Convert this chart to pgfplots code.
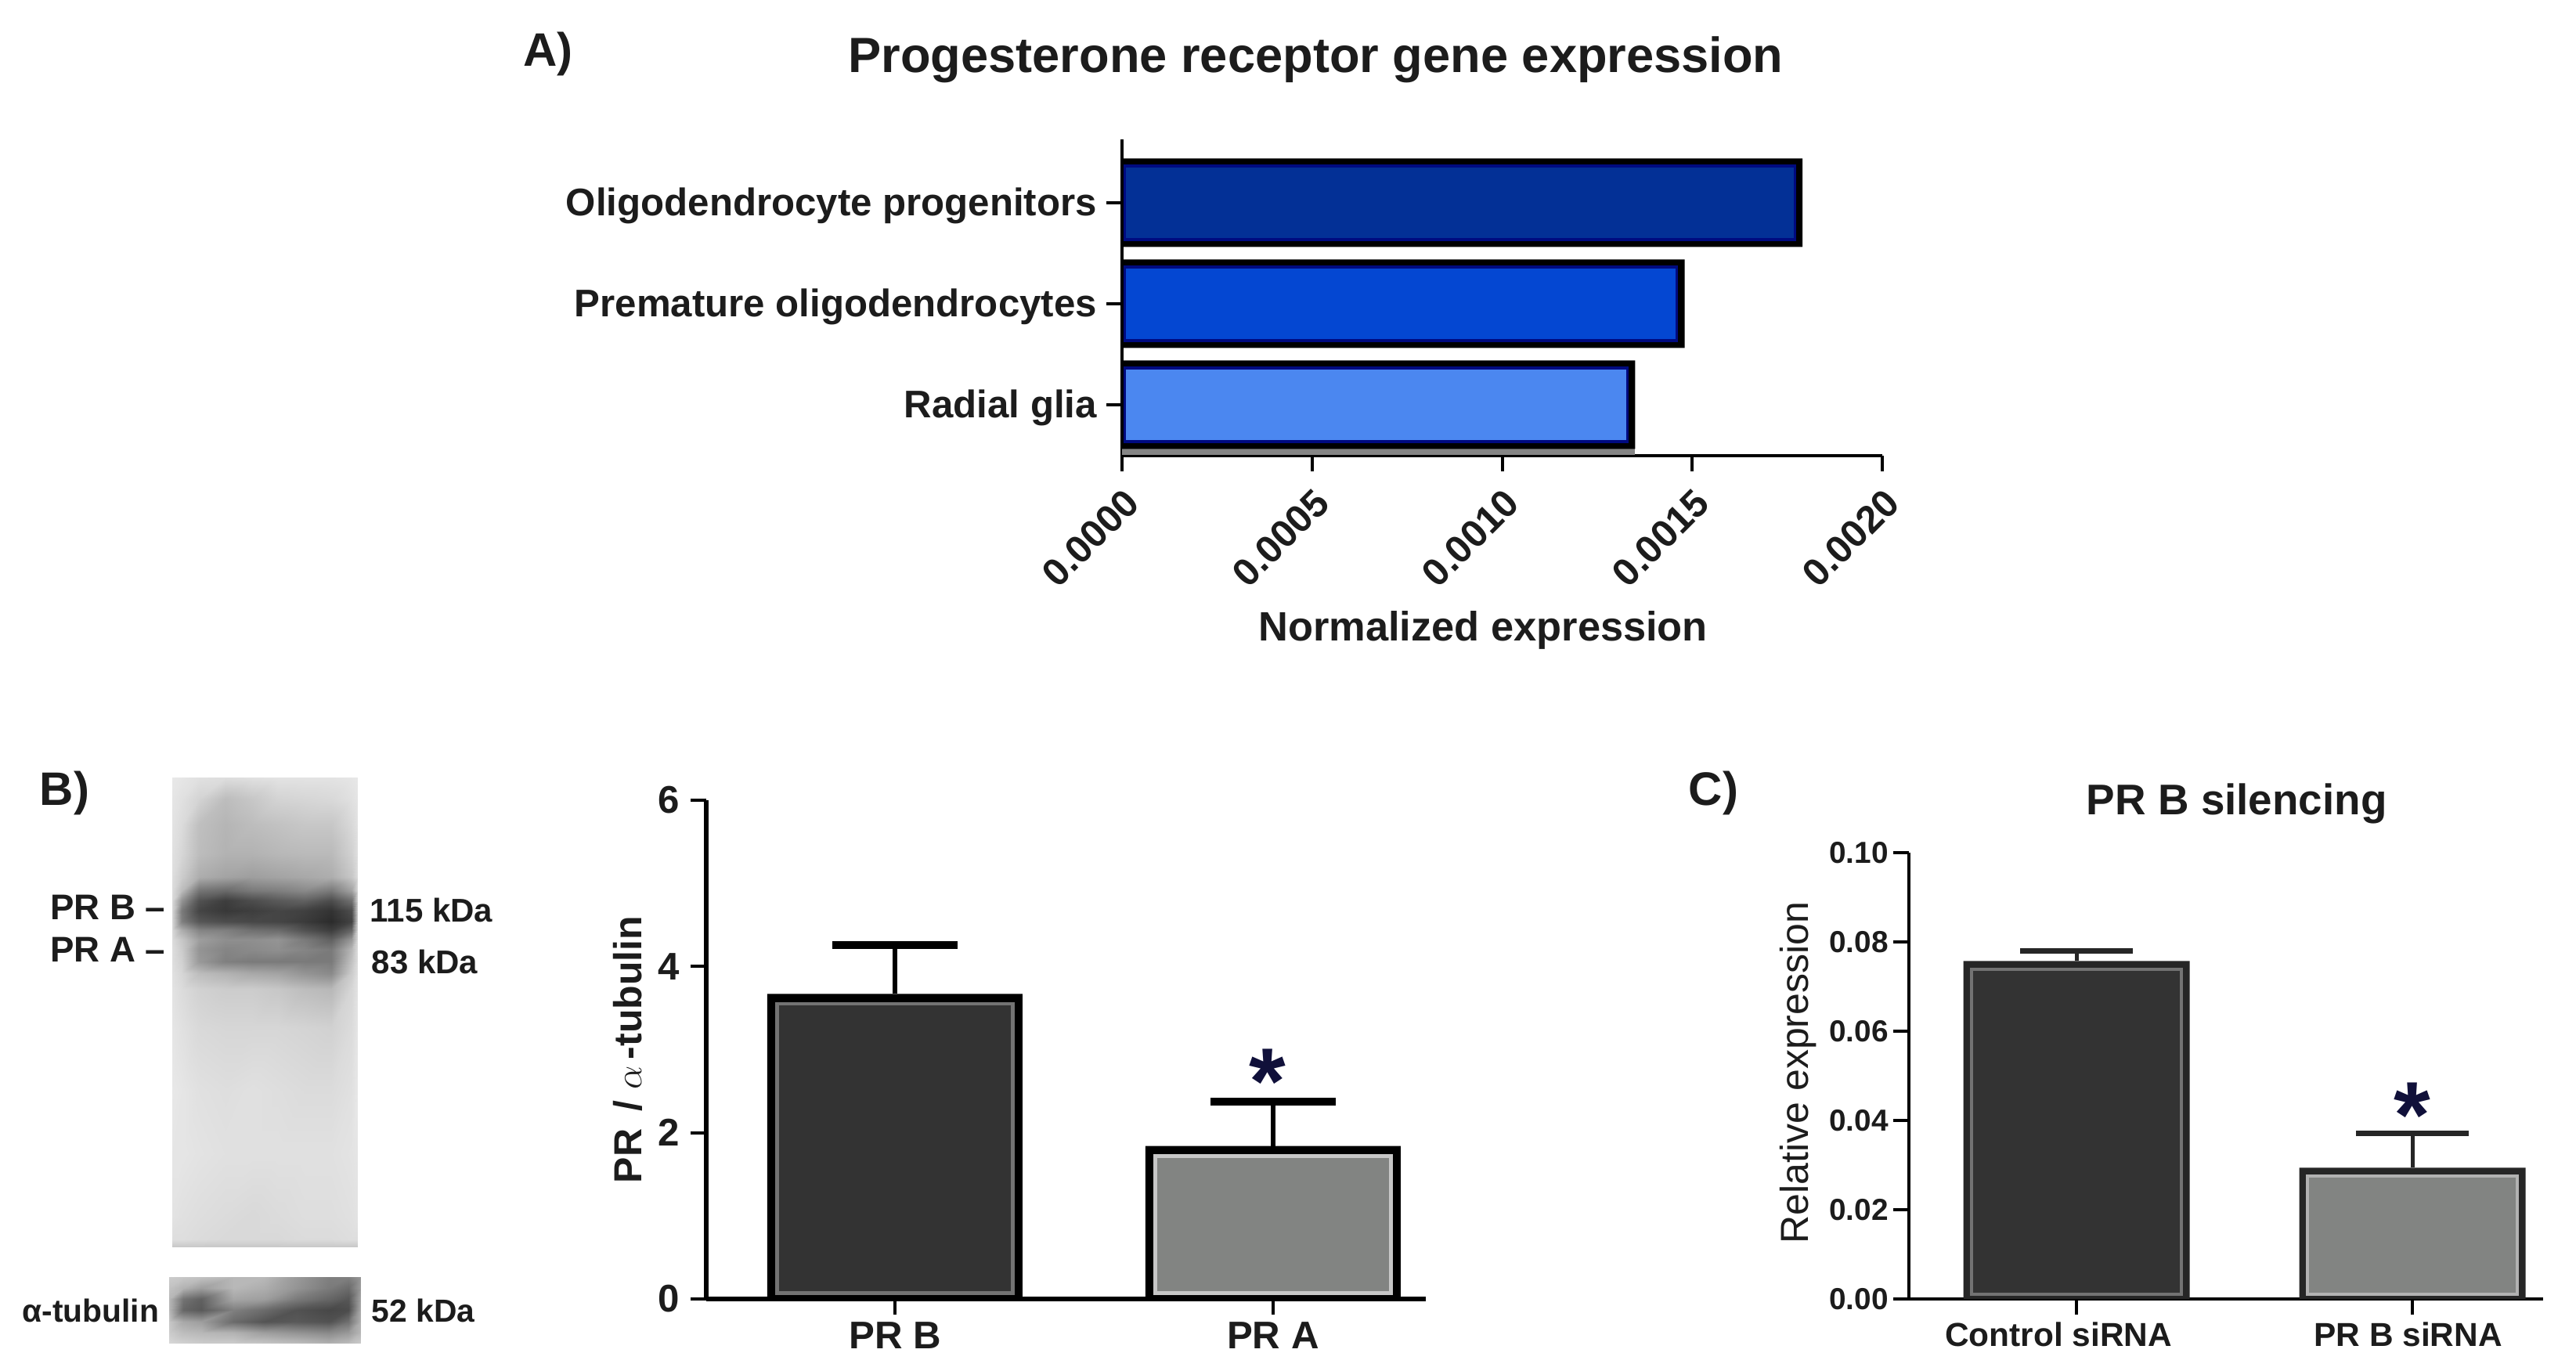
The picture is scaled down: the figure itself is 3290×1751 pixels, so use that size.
\documentclass[border=0pt]{standalone}
\usepackage{fontspec}
\setmainfont{Liberation Sans}
\usepackage{pgfplots}
\pgfplotsset{compat=1.18}
\newcommand\fs[1]{\fontsize{#1}{#1}\selectfont}
\definecolor{ink}{HTML}{1C1C1C}
\definecolor{bluedark}{HTML}{033096}
\definecolor{bluemid}{HTML}{0447D2}
\definecolor{bluelight}{HTML}{4B87F0}
\definecolor{navy}{HTML}{000A80}
\definecolor{bardark}{HTML}{333333}
\definecolor{bargrey}{HTML}{828482}
\definecolor{star}{HTML}{10103A}
\pgfplotsset{
  panel/.style={
    scale only axis, axis lines=left, axis line style={-,black,line width=#1},
    tick align=outside, major tick length=5pt, xtick pos=bottom, ytick pos=left,
    tick style={black,line width=1pt}, enlargelimits=false, scaled ticks=false, clip=false,
    tick label style={text=ink}, label style={text=ink}, title style={text=ink},
  },
  blot/.style={
    scale only axis, hide axis, view={0}{90}, y dir=reverse, enlargelimits=false,
    colormap={blotgray}{gray(0cm)=(0); gray(1cm)=(1)}, point meta min=0, point meta max=1,
  },
}
\begin{document}
\begin{tikzpicture}[x=0.25pt,y=0.25pt]
\path[use as bounding box] (0,0) rectangle (3290,1751);

% panel A
\begin{axis}[panel=1.1pt, at={(358.25pt,292.25pt)}, anchor=south west, width=242.75pt, height=101pt,
  xmin=0, xmax=0.002, ymin=-0.504, ymax=2.628,
  xtick={0,0.0005,0.001,0.0015,0.002},
  xticklabels={0.0000,0.0005,0.0010,0.0015,0.0020},
  ytick={0,1,2}, yticklabels={Radial glia,Premature oligodendrocytes,Oligodendrocyte progenitors},
  yticklabel style={font=\bfseries\fs{12.3}, xshift=0.5pt, yshift=-1pt},
  xticklabel style={font=\bfseries\fs{12.3}, rotate=45, anchor=north east, xshift=0.2pt, yshift=0pt},
  title={Progesterone receptor gene expression},
  title style={font=\bfseries\fs{15.8}, at={(axis description cs:0.255,1.192)}, anchor=center},
  xlabel={Normalized expression},
  xlabel style={font=\bfseries\fs{13.1}, at={(axis description cs:0.475,-0.553)}, anchor=center},
]
\addplot[fill=black!48, draw=none] coordinates {(0,-0.5) (0.00135,-0.5) (0.00135,-0.43) (0,-0.43)} --cycle;
\addplot[xbar, bar shift=0pt, bar width=28.25pt, fill=black, draw=none] coordinates {(0.00179,2) (0.00148,1) (0.00135,0)};
\addplot[fill=bluedark, draw=navy, line width=0.8pt] coordinates {(0.000008,1.636) (0.00177,1.636) (0.00177,2.364) (0.000008,2.364)} --cycle;
\addplot[fill=bluemid, draw=navy, line width=0.8pt] coordinates {(0.000008,0.636) (0.00146,0.636) (0.00146,1.364) (0.000008,1.364)} --cycle;
\addplot[fill=bluelight, draw=navy, line width=0.8pt] coordinates {(0.000008,-0.364) (0.00133,-0.364) (0.00133,0.364) (0.000008,0.364)} --cycle;
\end{axis}

% panel B, blots
\begin{axis}[blot, at={(55pt,39.5pt)}, anchor=south west, width=59.25pt, height=150pt, xmin=0, xmax=7, ymin=0, ymax=600]
\addplot3[surf, shader=interp, mesh/cols=10] coordinates {
(0,0,.91)(.35,0,.90)(1,0,.88)(2,0,.87)(3,0,.88)(4,0,.89)(5,0,.89)(6,0,.89)(6.75,0,.90)(7,0,.91)
(0,27,.90)(.35,27,.88)(1,27,.83)(2,27,.74)(3,27,.78)(4,27,.83)(5,27,.84)(6,27,.85)(6.75,27,.88)(7,27,.90)
(0,60,.89)(.35,60,.86)(1,60,.75)(2,60,.71)(3,60,.74)(4,60,.76)(5,60,.78)(6,60,.78)(6.75,60,.85)(7,60,.89)
(0,97,.88)(.35,97,.84)(1,97,.74)(2,97,.70)(3,97,.70)(4,97,.72)(5,97,.73)(6,97,.73)(6.75,97,.82)(7,97,.88)
(0,127,.87)(.35,127,.80)(1,127,.68)(2,127,.64)(3,127,.62)(4,127,.64)(5,127,.66)(6,127,.68)(6.75,127,.78)(7,127,.87)
(0,144,.86)(.35,144,.74)(1,144,.46)(2,144,.42)(3,144,.48)(4,144,.50)(5,144,.54)(6,144,.48)(6.75,144,.64)(7,144,.86)
(0,157,.85)(.35,157,.58)(1,157,.32)(2,157,.24)(3,157,.30)(4,157,.35)(5,157,.38)(6,157,.30)(6.75,157,.44)(7,157,.85)
(0,170,.84)(.35,170,.48)(1,170,.27)(2,170,.22)(3,170,.24)(4,170,.27)(5,170,.25)(6,170,.20)(6.75,170,.30)(7,170,.84)
(0,184,.84)(.35,184,.50)(1,184,.34)(2,184,.30)(3,184,.28)(4,184,.27)(5,184,.23)(6,184,.17)(6.75,184,.26)(7,184,.84)
(0,195,.85)(.35,195,.68)(1,195,.52)(2,195,.50)(3,195,.44)(4,195,.42)(5,195,.32)(6,195,.24)(6.75,195,.40)(7,195,.85)
(0,207,.86)(.35,207,.78)(1,207,.62)(2,207,.56)(3,207,.56)(4,207,.58)(5,207,.48)(6,207,.38)(6.75,207,.60)(7,207,.86)
(0,220,.87)(.35,220,.80)(1,220,.58)(2,220,.52)(3,220,.54)(4,220,.56)(5,220,.52)(6,220,.48)(6.75,220,.72)(7,220,.87)
(0,235,.87)(.35,235,.82)(1,235,.60)(2,235,.50)(3,235,.48)(4,235,.48)(5,235,.48)(6,235,.48)(6.75,235,.76)(7,235,.87)
(0,250,.88)(.35,250,.84)(1,250,.74)(2,250,.70)(3,250,.66)(4,250,.64)(5,250,.58)(6,250,.54)(6.75,250,.80)(7,250,.88)
(0,270,.89)(.35,270,.86)(1,270,.82)(2,270,.80)(3,270,.80)(4,270,.78)(5,270,.74)(6,270,.72)(6.75,270,.84)(7,270,.89)
(0,320,.90)(.35,320,.88)(1,320,.85)(2,320,.84)(3,320,.84)(4,320,.84)(5,320,.83)(6,320,.82)(6.75,320,.86)(7,320,.90)
(0,400,.91)(.35,400,.90)(1,400,.88)(2,400,.87)(3,400,.88)(4,400,.87)(5,400,.86)(6,400,.86)(6.75,400,.88)(7,400,.91)
(0,480,.90)(.35,480,.90)(1,480,.89)(2,480,.88)(3,480,.88)(4,480,.88)(5,480,.88)(6,480,.88)(6.75,480,.89)(7,480,.90)
(0,560,.89)(.35,560,.88)(1,560,.87)(2,560,.86)(3,560,.85)(4,560,.86)(5,560,.87)(6,560,.87)(6.75,560,.88)(7,560,.89)
(0,590,.87)(.35,590,.87)(1,590,.86)(2,590,.85)(3,590,.85)(4,590,.85)(5,590,.86)(6,590,.86)(6.75,590,.87)(7,590,.87)
(0,600,.78)(.35,600,.78)(1,600,.78)(2,600,.78)(3,600,.78)(4,600,.78)(5,600,.78)(6,600,.78)(6.75,600,.78)(7,600,.78)
};
\end{axis}
\begin{axis}[blot, at={(54pt,8.75pt)}, anchor=south west, width=61.25pt, height=21.25pt, xmin=0, xmax=6, ymin=0, ymax=6]
\addplot3[surf, shader=interp, mesh/cols=9] coordinates {
(0,0,.80)(.45,0,.78)(1,0,.76)(2,0,.72)(3,0,.72)(4,0,.60)(5,0,.50)(5.6,0,.50)(6,0,.60)
(0,1,.76)(.45,1,.70)(1,1,.62)(2,1,.72)(3,1,.68)(4,1,.58)(5,1,.48)(5.6,1,.42)(6,1,.62)
(0,2,.72)(.45,2,.45)(1,2,.38)(2,2,.65)(3,2,.62)(4,2,.48)(5,2,.40)(5.6,2,.34)(6,2,.66)
(0,3,.72)(.45,3,.40)(1,3,.35)(2,3,.50)(3,3,.42)(4,3,.32)(5,3,.28)(5.6,3,.30)(6,3,.68)
(0,4,.78)(.45,4,.66)(1,4,.62)(2,4,.42)(3,4,.33)(4,4,.35)(5,4,.32)(5.6,4,.44)(6,4,.70)
(0,5,.80)(.45,5,.74)(1,5,.72)(2,5,.70)(3,5,.62)(4,5,.58)(5,5,.54)(5.6,5,.60)(6,5,.72)
(0,6,.85)(.45,6,.82)(1,6,.80)(2,6,.80)(3,6,.78)(4,6,.75)(5,6,.70)(5.6,6,.74)(6,6,.80)
};
\end{axis}

% panel B, bars
\begin{axis}[panel=1.5pt, at={(225.5pt,23pt)}, anchor=south west, width=229.75pt, height=159.25pt,
  xmin=0.501, xmax=2.404, ymin=0, ymax=6,
  xtick={1,2}, xticklabels={PR B,PR A}, ytick={0,2,4,6}, yticklabels={0,2,4,6},
  tick label style={font=\bfseries\fs{12.3}},
  xticklabel style={yshift=1pt},
  ylabel={PR\, / $\alpha$\,-tubulin},
  ylabel style={font=\bfseries\fs{12.5}, at={(axis description cs:-0.109,0.5)}, anchor=center},
]
\addplot[ybar, bar shift=0pt, bar width=81.5pt, fill=black, draw=none,
  error bars/.cd, y dir=plus, y explicit, error bar style={black,line width=1.5pt},
  error mark options={rotate=90,black,mark size=20pt,line width=2.5pt}]
  coordinates {(1,3.67) +- (0,0.59) (2,1.84) +- (0,0.53)};
\addplot[fill=bardark, draw=black!55, line width=1.2pt] coordinates {(0.688,0.07) (1.312,0.07) (1.312,3.55) (0.688,3.55)} --cycle;
\addplot[fill=bargrey, draw=black!22, line width=1.2pt] coordinates {(1.688,0.07) (2.312,0.07) (2.312,1.72) (1.688,1.72)} --cycle;
\node[font=\bfseries\fs{30}, text=star] at (axis cs:1.985,2.62) {*};
\end{axis}

% panel C
\begin{axis}[panel=1.2pt, at={(609.5pt,23pt)}, anchor=south west, width=202.5pt, height=142.5pt,
  xmin=0.501, xmax=2.389, ymin=0, ymax=0.1,
  xtick={1,2}, xticklabels={\makebox[0pt]{Control siRNA\hspace{11.5pt}},\makebox[0pt]{PR B siRNA\hspace{2.7pt}}},
  ytick={0,0.02,0.04,0.06,0.08,0.1}, yticklabels={0.00,0.02,0.04,0.06,0.08,0.10},
  tick label style={font=\bfseries\fs{9.7}},
  yticklabel style={xshift=2pt},
  xticklabel style={font=\bfseries\fs{10.6}, yshift=1pt},
  title={PR B silencing},
  title style={font=\bfseries\fs{13.7}, at={(axis description cs:0.517,1.067)}, anchor=center},
  ylabel={Relative expression},
  ylabel style={font=\fs{12.5}, at={(axis description cs:-0.175,0.507)}, anchor=center},
]
\addplot[ybar, bar shift=0pt, bar width=72.25pt, fill=black!85, draw=none,
  error bars/.cd, y dir=plus, y explicit, error bar style={black!85,line width=1.25pt},
  error mark options={rotate=90,black!85,mark size=18pt,line width=1.6pt}]
  coordinates {(1,0.0757) +- (0,0.0023) (2,0.0294) +- (0,0.0077)};
\addplot[fill=bardark, draw=black!55, line width=1pt] coordinates {(0.688,0.001) (1.312,0.001) (1.312,0.0739) (0.688,0.0739)} --cycle;
\addplot[fill=bargrey, draw=black!30, line width=1pt] coordinates {(1.688,0.001) (2.312,0.001) (2.312,0.0276) (1.688,0.0276)} --cycle;
\node[font=\bfseries\fs{30}, text=star] at (axis cs:2,0.0412) {*};
\end{axis}

% panel letters and blot labels
\node[font=\bfseries\fs{15}, text=ink] at (700,1682) {A)};
\node[font=\bfseries\fs{15}, text=ink, anchor=west, inner sep=0pt] at (50,738) {B)};
\node[font=\bfseries\fs{15}, text=ink, anchor=west, inner sep=0pt] at (2156,738) {C)};
\node[font=\bfseries\fs{11.4}, text=ink, anchor=east, inner sep=0pt] at (212,592) {PR B --};
\node[font=\bfseries\fs{11.4}, text=ink, anchor=east, inner sep=0pt] at (212,538) {PR A --};
\node[font=\bfseries\fs{10.5}, text=ink, anchor=west, inner sep=0pt] at (472,588) {115 kDa};
\node[font=\bfseries\fs{10.5}, text=ink, anchor=west, inner sep=0pt] at (474,522) {83 kDa};
\node[font=\bfseries\fs{10.2}, text=ink, anchor=east, inner sep=0pt] at (204,77) {α-tubulin};
\node[font=\bfseries\fs{10.2}, text=ink, anchor=west, inner sep=0pt] at (474,77) {52 kDa};
\end{tikzpicture}
\end{document}
